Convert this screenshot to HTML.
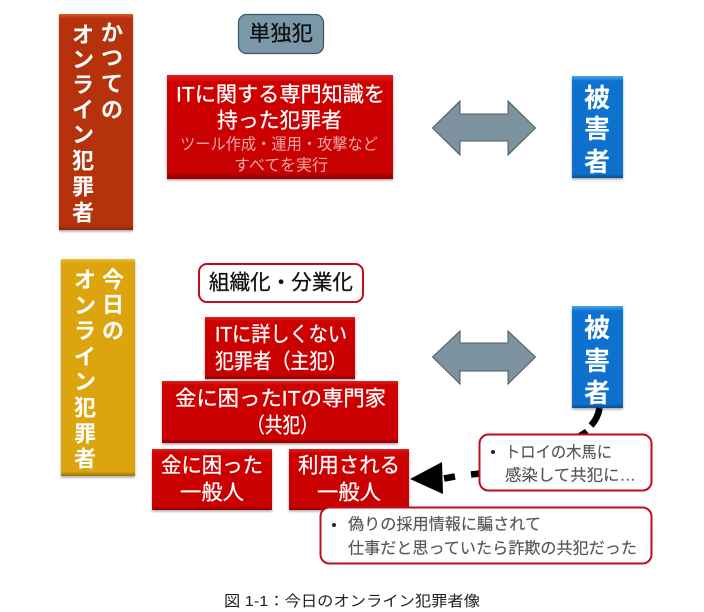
<!DOCTYPE html>
<html lang="ja"><head><meta charset="utf-8"><title>図 1-1</title>
<style>
html,body{margin:0;padding:0;background:#fff;width:704px;height:612px;overflow:hidden}
svg{display:block;filter:blur(.3px)}
text{font-family:"Liberation Sans","Noto Sans CJK JP",sans-serif;dominant-baseline:central}
.w{fill:#fff;stroke:#fff;stroke-width:.3}
.v{fill:#fff;font-size:22px;text-anchor:middle;font-weight:700}
.b{fill:#fff;font-size:26px;text-anchor:middle;font-weight:700}
.c{fill:#555;font-size:16px;stroke:#555;stroke-width:.15}
</style></head><body>
<svg width="704" height="612" viewBox="0 0 704 612" xmlns="http://www.w3.org/2000/svg">
<defs>
<filter id="s" x="-10%" y="-10%" width="120%" height="120%"><feDropShadow dx="0" dy="1.5" stdDeviation="1.2" flood-color="#000" flood-opacity=".35"/></filter>
<linearGradient id="red" x1="0" y1="0" x2="0" y2="1"><stop offset="0" stop-color="#e02020"/><stop offset=".06" stop-color="#cf0606"/><stop offset=".93" stop-color="#c80404"/><stop offset="1" stop-color="#8e0606"/></linearGradient>
<linearGradient id="rust" x1="0" y1="0" x2="0" y2="1"><stop offset="0" stop-color="#d85a30"/><stop offset=".02" stop-color="#b5330e"/><stop offset=".98" stop-color="#b5330e"/><stop offset="1" stop-color="#7d2a10"/></linearGradient>
<linearGradient id="gold" x1="0" y1="0" x2="0" y2="1"><stop offset="0" stop-color="#ecc030"/><stop offset=".02" stop-color="#dca508"/><stop offset=".98" stop-color="#dca508"/><stop offset="1" stop-color="#94710e"/></linearGradient>
<linearGradient id="blue" x1="0" y1="0" x2="0" y2="1"><stop offset="0" stop-color="#4aa8ee"/><stop offset=".05" stop-color="#0a72cf"/><stop offset=".96" stop-color="#0a70cc"/><stop offset="1" stop-color="#0a4f8c"/></linearGradient>
</defs>

<!-- top row -->
<rect x="59" y="14" width="74" height="216" fill="url(#rust)" filter="url(#s)"/>
<text class="v" x="112" y="33">か</text><text class="v" x="112" y="58">つ</text><text class="v" x="112" y="84">て</text><text class="v" x="112" y="110">の</text>
<text class="v" x="83" y="35">オ</text><text class="v" x="83" y="60">ン</text><text class="v" x="83" y="85">ラ</text><text class="v" x="83" y="110">イ</text><text class="v" x="83" y="135">ン</text><text class="v" x="83" y="161">犯</text><text class="v" x="83" y="187">罪</text><text class="v" x="83" y="213">者</text>

<rect x="238.5" y="14.5" width="85" height="39" rx="8" fill="#7b98a9" stroke="#3f5360" stroke-width="1.2"/>
<text x="249" y="34" font-size="21" fill="#111" stroke="#111" stroke-width=".3" textLength="64" lengthAdjust="spacingAndGlyphs">単独犯</text>

<rect x="167" y="75" width="226" height="104" fill="url(#red)" filter="url(#s)"/>
<text class="w" x="176" y="95" font-size="21" textLength="209" lengthAdjust="spacingAndGlyphs">ITに関する専門知識を</text>
<text class="w" x="217" y="121" font-size="21" textLength="125" lengthAdjust="spacingAndGlyphs">持った犯罪者</text>
<text x="180" y="145" font-size="16" fill="#f0a6a6" textLength="198" lengthAdjust="spacingAndGlyphs">ツール作成・運用・攻撃など</text>
<text x="234" y="166" font-size="16" fill="#f0a6a6" textLength="94" lengthAdjust="spacingAndGlyphs">すべてを実行</text>

<path d="M432.5 128 L460 101 V114 H508 V101 L535.5 128 L508 155 V141 H460 V155 Z" fill="#7d929f" stroke="#4d5a63" stroke-width="1"/>

<rect x="572" y="76" width="51" height="102" fill="url(#blue)" filter="url(#s)"/>
<text class="b" x="597" y="98">被</text><text class="b" x="597" y="129">害</text><text class="b" x="597" y="162">者</text>

<!-- bottom row -->
<rect x="61" y="259" width="74" height="217" fill="url(#gold)" filter="url(#s)"/>
<text class="v" x="113" y="280">今</text><text class="v" x="113" y="305">日</text><text class="v" x="113" y="331">の</text>
<text class="v" x="85" y="280">オ</text><text class="v" x="85" y="306">ン</text><text class="v" x="85" y="331">ラ</text><text class="v" x="85" y="357">イ</text><text class="v" x="85" y="382">ン</text><text class="v" x="85" y="408">犯</text><text class="v" x="85" y="434">罪</text><text class="v" x="85" y="459">者</text>

<rect x="199" y="264" width="164" height="38" rx="8" fill="#fff" stroke="#c00d1a" stroke-width="2"/>
<text x="209" y="283" font-size="21" fill="#111" stroke="#111" stroke-width=".3" textLength="144" lengthAdjust="spacingAndGlyphs">組織化・分業化</text>

<rect x="205" y="317" width="150" height="62" fill="url(#red)" filter="url(#s)"/>
<text class="w" x="215" y="335" font-size="21" textLength="132" lengthAdjust="spacingAndGlyphs">ITに詳しくない</text>
<text class="w" x="215" y="362" font-size="21" textLength="132" lengthAdjust="spacingAndGlyphs">犯罪者（主犯）</text>

<rect x="162" y="381" width="236" height="62" fill="url(#red)" filter="url(#s)"/>
<text class="w" x="175" y="399" font-size="21" textLength="211" lengthAdjust="spacingAndGlyphs">金に困ったITの専門家</text>
<text class="w" x="247" y="426" font-size="21" textLength="71" lengthAdjust="spacingAndGlyphs">（共犯）</text>

<rect x="152" y="449" width="120" height="61" fill="url(#red)" filter="url(#s)"/>
<text class="w" x="161" y="466" font-size="21" textLength="102" lengthAdjust="spacingAndGlyphs">金に困った</text>
<text class="w" x="180" y="493" font-size="21" textLength="64" lengthAdjust="spacingAndGlyphs">一般人</text>

<rect x="289" y="449" width="120" height="61" fill="url(#red)" filter="url(#s)"/>
<text class="w" x="298" y="466" font-size="21" textLength="102" lengthAdjust="spacingAndGlyphs">利用される</text>
<text class="w" x="317" y="493" font-size="21" textLength="64" lengthAdjust="spacingAndGlyphs">一般人</text>

<path d="M432.5 357 L460 331 V343 H508 V331 L535.5 357 L508 384 V371 H460 V384 Z" fill="#7d929f" stroke="#4d5a63" stroke-width="1"/>

<rect x="572" y="306" width="51" height="102" fill="url(#blue)" filter="url(#s)"/>
<text class="b" x="597" y="328">被</text><text class="b" x="597" y="361">害</text><text class="b" x="597" y="393">者</text>

<!-- connector -->
<path d="M599.5 408 Q598 418 591 425.5" fill="none" stroke="#000" stroke-width="6.5"/>
<path d="M577 434 L585 429 L589 434 Z" fill="#000"/>
<path d="M444 478.5 L455 476.5 M471 474.5 L480 473.5" fill="none" stroke="#000" stroke-width="6.5"/>
<path d="M410 479 L442 462 L443 494 Z" fill="#000"/>

<!-- callouts -->
<rect x="479.5" y="434.5" width="172" height="56" rx="9" fill="#fff" stroke="#c00d1a" stroke-width="2"/>
<circle cx="493" cy="452" r="2" fill="#223"/>
<text class="c" x="505" y="453" textLength="107" lengthAdjust="spacingAndGlyphs">トロイの木馬に</text>
<text class="c" x="505" y="476" textLength="131" lengthAdjust="spacingAndGlyphs">感染して共犯に…</text>

<rect x="320.5" y="507.5" width="331" height="56" rx="9" fill="#fff" stroke="#c00d1a" stroke-width="2"/>
<circle cx="334" cy="525" r="2" fill="#223"/>
<text class="c" x="348" y="525" textLength="193" lengthAdjust="spacingAndGlyphs">偽りの採用情報に騙されて</text>
<text class="c" x="348" y="549" textLength="289" lengthAdjust="spacingAndGlyphs">仕事だと思っていたら詐欺の共犯だった</text>

<text x="224" y="601.5" font-size="15" fill="#222" textLength="256" lengthAdjust="spacingAndGlyphs">図 1-1：今日のオンライン犯罪者像</text>
</svg>
</body></html>
